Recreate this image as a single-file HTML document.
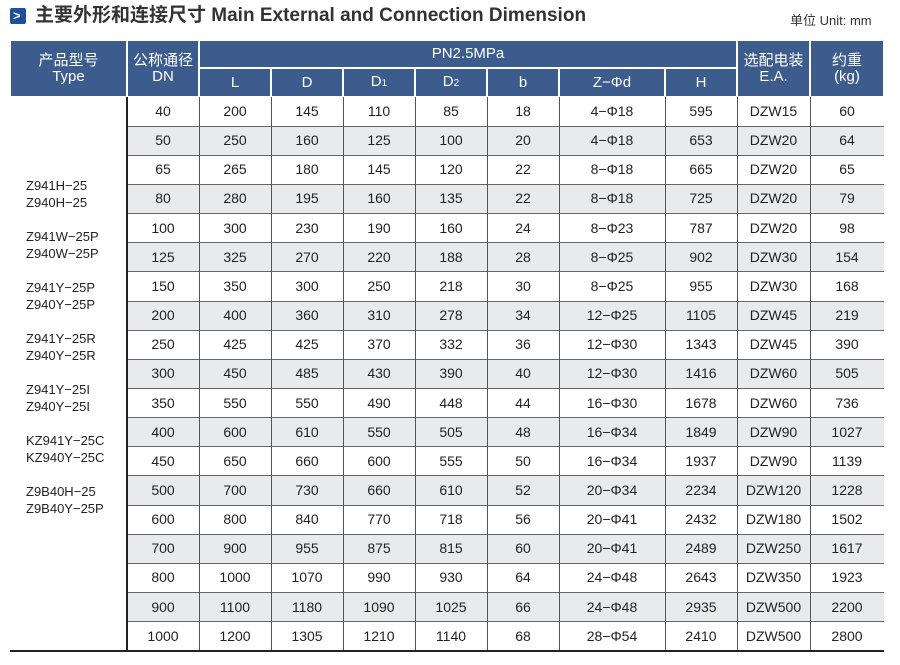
<!DOCTYPE html>
<html><head><meta charset="utf-8"><style>
body{margin:0;width:900px;height:665px;background:#fff;position:relative;font-family:"Liberation Sans","Noto Sans CJK SC",sans-serif;color:#222;overflow:hidden}
.a{position:absolute}
.t{position:absolute;text-align:center;font-size:14px}
.h{position:absolute;background:#3c5c8e;color:#fff;text-align:center;font-size:15px;display:flex;align-items:center;justify-content:center;line-height:16px}
.ty{position:absolute;left:26px;font-size:13px;line-height:17px;color:#222}
</style></head><body>
<div class="a" style="left:10px;top:8px;width:16px;height:16px;background:#1f4f96;border-radius:2px"></div>
<div class="a" style="left:13px;top:8px;color:#fff;font-size:13px;font-weight:bold;line-height:16px">&gt;</div>
<div class="a" style="left:35px;top:5px;font-size:19px;font-weight:bold;color:#333;line-height:22px;white-space:nowrap">主要外形和连接尺寸 Main External and Connection Dimension</div>
<div class="a" style="left:790px;top:10px;font-size:13px;color:#333;white-space:nowrap">单位 Unit: mm</div>
<div id="hd"></div>
<div id="bd"></div>
<script>
var X=[10,127,199,271,343,415,487,559,665,737,810,884];
var hd='';
function H(x1,x2,y1,y2,txt){hd+='<div class="h" style="left:'+(X[x1]+1)+'px;width:'+(X[x2]-X[x1]-2)+'px;top:'+y1+'px;height:'+(y2-y1)+'px"><div>'+txt+'</div></div>';}
H(0,1,41,96,'产品型号<br>Type');H(1,2,41,96,'公称通径<br>DN');H(2,9,41,67,'PN2.5MPa');
var sub=['L','D','D<span style="font-size:10px">1</span>','D<span style="font-size:10px">2</span>','b','Z−Φd','H'];
for(var i=0;i<7;i++)H(2+i,3+i,69,96,sub[i]);
H(9,10,41,96,'选配电装<br>E.A.');H(10,11,41,96,'约重<br>(kg)');
document.getElementById('hd').innerHTML=hd;
var D=[[40,200,145,110,85,18,'4−Φ18',595,'DZW15',60],[50,250,160,125,100,20,'4−Φ18',653,'DZW20',64],[65,265,180,145,120,22,'8−Φ18',665,'DZW20',65],[80,280,195,160,135,22,'8−Φ18',725,'DZW20',79],[100,300,230,190,160,24,'8−Φ23',787,'DZW20',98],[125,325,270,220,188,28,'8−Φ25',902,'DZW30',154],[150,350,300,250,218,30,'8−Φ25',955,'DZW30',168],[200,400,360,310,278,34,'12−Φ25',1105,'DZW45',219],[250,425,425,370,332,36,'12−Φ30',1343,'DZW45',390],[300,450,485,430,390,40,'12−Φ30',1416,'DZW60',505],[350,550,550,490,448,44,'16−Φ30',1678,'DZW60',736],[400,600,610,550,505,48,'16−Φ34',1849,'DZW90',1027],[450,650,660,600,555,50,'16−Φ34',1937,'DZW90',1139],[500,700,730,660,610,52,'20−Φ34',2234,'DZW120',1228],[600,800,840,770,718,56,'20−Φ41',2432,'DZW180',1502],[700,900,955,875,815,60,'20−Φ41',2489,'DZW250',1617],[800,1000,1070,990,930,64,'24−Φ48',2643,'DZW350',1923],[900,1100,1180,1090,1025,66,'24−Φ48',2935,'DZW500',2200],[1000,1200,1305,1210,1140,68,'28−Φ54',2410,'DZW500',2800]];
var s='',y0=97,rh=29.15;
for(var r=0;r<19;r++){var y=y0+r*rh;
if(r%2==1)s+='<div class="a" style="left:128px;width:756px;top:'+y+'px;height:'+rh+'px;background:#e8ebee"></div>';
if(r>0)s+='<div class="a" style="left:127px;width:757px;top:'+(y-0.5)+'px;height:1px;background:#666"></div>';
for(var c=0;c<10;c++)s+='<div class="t" style="left:'+X[c+1]+'px;width:'+(X[c+2]-X[c+1])+'px;top:'+y+'px;line-height:'+rh+'px">'+D[r][c]+'</div>';}
for(var c=2;c<11;c++)s+='<div class="a" style="left:'+(X[c]-0.5)+'px;width:1px;top:97px;height:554px;background:#555"></div>';
s+='<div class="a" style="left:126px;width:2px;top:97px;height:554px;background:#222"></div>';
s+='<div class="a" style="left:10px;width:874px;top:650px;height:2px;background:#222"></div>';
var T=[['Z941H−25','Z940H−25'],['Z941W−25P','Z940W−25P'],['Z941Y−25P','Z940Y−25P'],['Z941Y−25R','Z940Y−25R'],['Z941Y−25I','Z940Y−25I'],['KZ941Y−25C','KZ940Y−25C'],['Z9B40H−25','Z9B40Y−25P']];
for(var i=0;i<7;i++)s+='<div class="ty" style="top:'+(177+i*51)+'px">'+T[i][0]+'<br>'+T[i][1]+'</div>';
document.getElementById('bd').innerHTML=s;
</script>
</body></html>
